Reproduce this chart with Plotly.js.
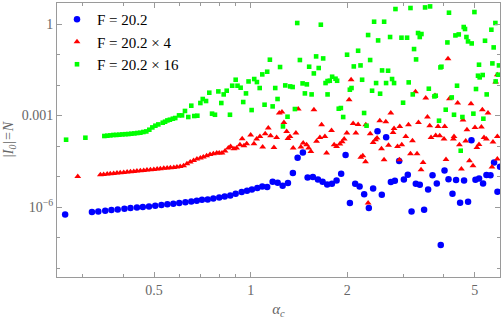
<!DOCTYPE html>
<html>
<head>
<meta charset="utf-8">
<script src="https://cdn.plot.ly/plotly-3.0.1.min.js"></script>
<style>html,body{margin:0;padding:0;background:#fff;}#chart{width:504px;height:319px;}</style>
</head>
<body>
<div id="chart"></div>
<script>
// ---- data ----
const seriesNames = ["F = 20.2", "F = 20.2 × 4", "F = 20.2 × 16"];

const blueX = [0.264,
  0.320,0.335,0.352,0.368,0.385,0.404,0.422,0.442,0.461,0.482,0.504,0.527,0.550,0.574,0.599,0.626,0.653,0.679,0.705,
  0.7345,0.765,0.798,0.830,0.864,0.898,0.9375,0.974,1.009,1.049,1.087,1.126,1.171,1.214,1.258,1.307,1.354,1.401,1.455,
  1.505,1.563,1.621,1.676,1.732,1.792,1.853,1.915,1.977,2.039,2.118,2.186,2.259,2.336,2.409,2.486,2.564,2.645,2.736,
  2.816,2.904,3.004,3.090,3.174,3.273,3.368,3.474,3.575,3.690,3.805,3.915,4.022,4.139,4.259,4.370,4.498,4.628,4.763,
  4.880,5.022,5.154,5.304,5.435,5.594,5.740,5.882,5.993];
const blueY = [5.72e-7,
  6.85e-7,7.18e-7,7.57e-7,7.98e-7,8.34e-7,8.79e-7,9.27e-7,9.71e-7,1.0e-6,1.047e-6,1.10e-6,1.16e-6,1.22e-6,1.28e-6,1.35e-6,1.42e-6,1.53e-6,1.61e-6,1.73e-6,
  1.77e-6,1.91e-6,2.06e-6,2.23e-6,2.40e-6,2.73e-6,3.10e-6,3.42e-6,3.78e-6,4.20e-6,4.73e-6,4.53e-6,6.76e-6,6.26e-6,4.99e-6,6.12e-6,1.30e-5,4.13e-5,6.17e-5,
  9.34e-6,9.64e-6,8.04e-6,6.76e-6,5.51e-6,5.81e-6,7.45e-6,1.24e-5,5.07e-5,1.35e-6,5.81e-6,4.73e-6,2.63e-6,9.27e-7,4.07e-6,3.05e-4,2.53e-6,1.94e-4,6.61e-6,
  7.28e-6,3.22e-5,8.04e-6,1.15e-5,7.18e-7,5.81e-6,5.38e-6,8.15e-7,3.78e-6,1.09e-5,5.94e-6,5.68e-8,1.58e-5,8.15e-6,2.73e-6,7.74e-6,1.38e-6,7.45e-6,1.49e-6,
  1.55e-4,7.85e-6,8.66e-6,5.94e-6,1.12e-5,1.09e-5,2.90e-5,3.18e-6,2.10e-5];

const redX = [0.289,
  0.340,0.348,0.357,0.365,0.374,0.383,0.392,0.402,0.412,0.422,0.432,0.442,0.453,0.464,0.475,0.487,0.499,0.511,0.523,0.536,
  0.549,0.562,0.576,0.589,0.603,0.618,0.633,0.648,0.664,0.680,0.697,
  0.712,0.729,0.747,0.765,0.784,0.798,0.814,0.832,0.852,0.866,0.887,0.904,0.926,0.941,0.953,0.972,1.0,1.024,1.044,1.069,
  1.090,1.110,1.135,1.154,1.182,1.205,1.228,1.252,1.270,1.295,1.307,1.326,1.357,1.384,1.407,1.434,1.458,1.494,1.516,1.541,
  1.575,1.605,1.644,1.664,1.704,1.725,1.787,1.821,1.853,1.897,1.929,1.957,1.995,
  2.028,2.057,2.087,2.128,2.163,2.205,2.237,2.281,2.286,2.324,2.359,2.409,2.450,2.478,2.527,2.558,2.606,2.639,2.691,2.735,
  2.780,2.800,2.870,2.911,2.917,2.959,3.046,3.105,3.150,3.195,3.265,3.302,3.336,3.398,3.448,3.515,3.558,3.617,3.651,3.757,
  3.776,3.839,3.886,4.008,4.028,4.065,4.124,4.166,4.287,4.306,4.420,4.476,4.540,4.593,4.683,4.725,4.810,4.864,4.934,5.005,
  5.075,5.152,5.241,5.278,5.340,5.432,5.495,5.655,5.695,5.807,5.877,5.877,5.877];
const redY = [1.01e-5,
  1.15e-5,1.17e-5,1.21e-5,1.24e-5,1.26e-5,1.30e-5,1.33e-5,1.36e-5,1.41e-5,1.44e-5,1.47e-5,1.51e-5,1.55e-5,1.58e-5,1.63e-5,1.67e-5,1.71e-5,1.76e-5,1.80e-5,1.85e-5,
  1.90e-5,1.94e-5,1.99e-5,2.05e-5,2.14e-5,2.26e-5,2.63e-5,2.99e-5,3.37e-5,3.75e-5,4.05e-5,
  4.36e-5,4.81e-5,5.31e-5,5.60e-5,5.89e-5,5.89e-5,5.89e-5,6.86e-5,8.60e-5,9.70e-5,8.15e-5,8.60e-5,1.10e-4,1.73e-4,1.02e-4,1.19e-4,2.30e-4,1.19e-4,1.70e-4,2.07e-4,
  9.27e-5,2.53e-4,3.89e-4,2.18e-4,9.0e-5,1.91e-4,1.21e-3,1.30e-3,5.94e-4,3.01e-4,1.77e-4,2.07e-4,8.6e-5,2.67e-4,1.63e-3,9.27e-5,1.25e-4,1.10e-4,8.6e-5,6.65e-5,
  1.55e-3,1.42e-4,1.91e-4,4.99e-4,2.07e-4,5.89e-5,3.25e-4,1.10e-4,9.70e-5,1.16e-4,1.38e-4,1.70e-4,2.67e-4,
  3.30e-3,1.49e-2,5.51e-4,2.67e-4,5.11e-4,4.30e-5,4.81e-5,3.06e-5,4.99e-4,1.35e-6,2.53e-4,1.31e-4,1.61e-4,1.83e-4,6.76e-4,8.15e-5,3.56e-5,6.26e-4,1.05e-4,1.21e-3,
  2.79e-4,3.78e-4,9.70e-5,3.56e-5,4.39e-4,1.10e-4,2.07e-4,4.99e-4,5.60e-5,1.49e-4,6.03e-3,5.60e-5,5.94e-4,1.67e-5,2.90e-5,3.75e-3,8.93e-4,4.63e-4,1.91e-4,4.56e-3,
  2.23e-4,4.39e-4,2.18e-4,1.70e-4,4.39e-4,3.64e-5,7.28e-2,3.56e-3,1.70e-4,2.07e-4,2.57e-3,1.10e-4,1.76e-5,7.11e-4,1.46e-4,3.42e-4,3.30e-5,2.44e-3,2.26e-5,4.07e-4,
  9.0e-5,1.13e-4,4.20e-4,1.55e-3,1.91e-4,1.70e-4,1.21e-3,2.05e-5,1.35e-4,1.25e-2,2.18e-2,2.07e-4,3.75e-5];

const greenX = [0.2658,0.3053,
  0.3498,0.3574,0.3652,0.3732,0.3812,0.3895,0.3981,0.4068,0.4156,0.4246,0.4339,0.4433,0.453,0.4629,0.4728,0.4831,0.4937,0.5045,0.5154,
  0.532,0.541,0.550,0.560,0.572,0.582,0.598,0.611,0.624,0.639,0.653,0.667,0.682,0.697,0.709,0.726,0.743,0.758,0.774,0.793,
  0.810,0.824,0.842,0.862,0.876,0.898,0.910,0.9307,0.948,0.967,0.985,1.007,1.026,1.046,1.067,1.087,1.105,1.126,1.148,1.171,
  1.193,1.213,1.235,1.261,1.282,1.303,1.328,1.352,1.374,1.397,1.424,1.452,1.476,1.497,1.522,1.549,1.574,1.600,1.630,1.655,
  1.683,1.712,1.737,1.737,1.765,1.795,1.839,1.860,1.882,1.911,
  1.943,1.998,2.038,2.063,2.097,2.163,2.2006,2.226,2.258,2.298,2.324,2.358,2.391,2.426,2.461,2.497,2.533,2.569,2.607,2.644,
  2.682,2.721,2.760,2.800,2.828,2.953,2.987,3.074,3.110,3.150,3.202,3.232,3.279,3.326,3.367,3.408,3.498,3.593,3.626,3.740,
  3.776,3.866,3.9057,3.934,4.057,4.106,4.153,4.236,4.306,4.349,4.400,4.455,4.518,4.573,4.616,4.659,4.707,4.761,4.889,4.948,
  4.985,5.042,5.115,5.152,5.177,5.290,5.316,5.379,5.444,5.630,5.671,5.724,5.794,5.806,5.904,5.946];
const greenY = [1.61e-4,1.87e-4,
  2.13e-4,2.18e-4,2.23e-4,2.30e-4,2.31e-4,2.35e-4,2.40e-4,2.44e-4,2.47e-4,2.53e-4,2.59e-4,2.67e-4,2.73e-4,2.88e-4,3.01e-4,3.42e-4,4.07e-4,4.63e-4,5.11e-4,
  5.81e-4,6.26e-4,6.90e-4,7.28e-4,7.85e-4,8.28e-4,1.01e-3,1.01e-3,1.41e-3,8.93e-4,2.10e-3,9.63e-4,9.85e-4,2.57e-3,3.48e-3,2.99e-3,5.60e-3,1.15e-3,1.06e-3,6.17e-3,
  2.57e-3,4.92e-3,6.50e-3,1.06e-3,9.48e-3,1.49e-2,9.48e-3,8.15e-3,2.77e-3,5.31e-3,1.31e-2,1.51e-3,1.57e-2,1.25e-2,7.97e-3,2.23e-2,2.26e-3,2.73e-2,6.76e-2,1.99e-3,
  7.97e-3,3.48e-3,3.89e-2,4.39e-4,9.70e-3,9.14e-4,9.0e-3,8.60e-3,1.63e-3,1.08,6.60e-2,1.13e-2,5.31e-3,1.05e-2,3.98e-2,4.92e-3,2.40e-2,8.67e-2,3.61e-2,0.949,
  7.45e-2,1.16e-2,1.35e-2,4.92e-3,1.38e-2,1.87e-2,1.61e-2,1.38e-2,1.67e-3,1.76e-3,
  8.93e-4,9.85e-2,7.02e-3,7.97e-3,4.07e-2,0.133,4.39e-2,1.49e-2,1.21e-3,4.63e-4,0.436,6.60e-2,6.50e-3,1.19,1.16e-2,0.290,5.19e-3,3.01e-2,1.19,1.16e-2,
  2.94e-2,0.375,1.57e-2,1.16e-2,3.10,0.356,2.63e-3,0.356,1.22e-2,3.35,4.92e-3,0.151,6.91e-2,0.507,0.375,0.470,3.50,7.56e-3,3.78,4.23e-3,
  4.46e-3,6.76e-4,3.78e-2,3.98e-2,1.55e-3,0.249,2.35,3.92e-3,1.06e-3,0.423,9.48e-3,0.456,7.01e-5,8.93e-4,0.797,0.686,0.375,0.269,0.231,1.15e-3,
  2.47,7.39e-3,2.02e-2,4.63e-2,1.78e-2,2.13e-2,7.85e-4,0.283,4.92e-3,0.650,5.11e-2,0.171,1.08,1.31e-2,2.18e-2,4.39e-2];

const xMajorTicks = [0.5, 1, 2, 5];
const xMinorTicks = [0.3, 0.4, 0.6, 0.7, 0.8, 0.9, 3, 4, 6];
const yMajorTicks = [1e-6, 1e-3, 1];
const yMajorLabels = ["10<sup>−6</sup>", "0.001", "1"];
const yMinorTicks = [1e-8, 1e-7, 1e-5, 1e-4, 1e-2, 1e-1];
const xRange = [0.249, 5.99];
const yRange = [5.07e-9, 4.89];

// ---- plot ----
const frameColor = '#9a9a9a';
const labelColor = '#666666';
const serif = 'Liberation Serif';

const traces = [
  {x: blueX, y: blueY, name: seriesNames[0], legendgroup: 'a', mode: 'markers', type: 'scatter',
   marker: {color: '#0000ff', size: 6.5, symbol: 'circle'}},
  {x: redX, y: redY, name: seriesNames[1], legendgroup: 'b', mode: 'markers', type: 'scatter',
   marker: {color: '#ff0000', size: 6, symbol: 'triangle-up'}},
  {x: greenX, y: greenY, name: seriesNames[2], legendgroup: 'c', mode: 'markers', type: 'scatter',
   marker: {color: '#00ff00', size: 4.6, symbol: 'square'}}
];

const layout = {
  width: 504, height: 319,
  margin: {l: 57, r: 4, t: 3, b: 42},
  paper_bgcolor: '#ffffff', plot_bgcolor: '#ffffff',
  font: {family: serif},
  showlegend: true,
  legend: {x: 0.0, y: 1.0, xanchor: 'left', yanchor: 'top', bgcolor: 'rgba(255,255,255,0)',
           font: {family: serif, size: 15, color: '#000000'}, tracegroupgap: 9, traceorder: 'normal'},
  xaxis: {
    type: 'log', range: [Math.log10(xRange[0]), Math.log10(xRange[1])],
    showgrid: false, zeroline: false, showline: true, linecolor: frameColor, linewidth: 1, mirror: 'ticks',
    ticks: 'inside', ticklen: 5, tickcolor: frameColor, tickmode: 'array', tickvals: xMajorTicks,
    ticktext: xMajorTicks.map(String), tickfont: {family: serif, size: 14, color: labelColor},
    minor: {tickmode: 'array', tickvals: xMinorTicks, ticks: 'inside', ticklen: 3, tickcolor: frameColor, showgrid: false},
    title: {text: '<i>α<sub>c</sub></i>', font: {family: serif, size: 15, color: labelColor}, standoff: 8}
  },
  yaxis: {
    type: 'log', range: [Math.log10(yRange[0]), Math.log10(yRange[1])],
    showgrid: false, zeroline: false, showline: true, linecolor: frameColor, linewidth: 1, mirror: 'ticks',
    ticks: 'inside', ticklen: 5, tickcolor: frameColor, tickmode: 'array', tickvals: yMajorTicks,
    ticktext: yMajorLabels, tickfont: {family: serif, size: 14, color: labelColor},
    minor: {tickmode: 'array', tickvals: yMinorTicks, ticks: 'inside', ticklen: 3, tickcolor: frameColor, showgrid: false},
    title: {text: '<i>|I<sub>0</sub>|=N</i>', font: {family: serif, size: 14, color: labelColor}, standoff: 4}
  }
};

Plotly.newPlot('chart', traces, layout, {staticPlot: true, displayModeBar: false});
</script>
</body>
</html>
